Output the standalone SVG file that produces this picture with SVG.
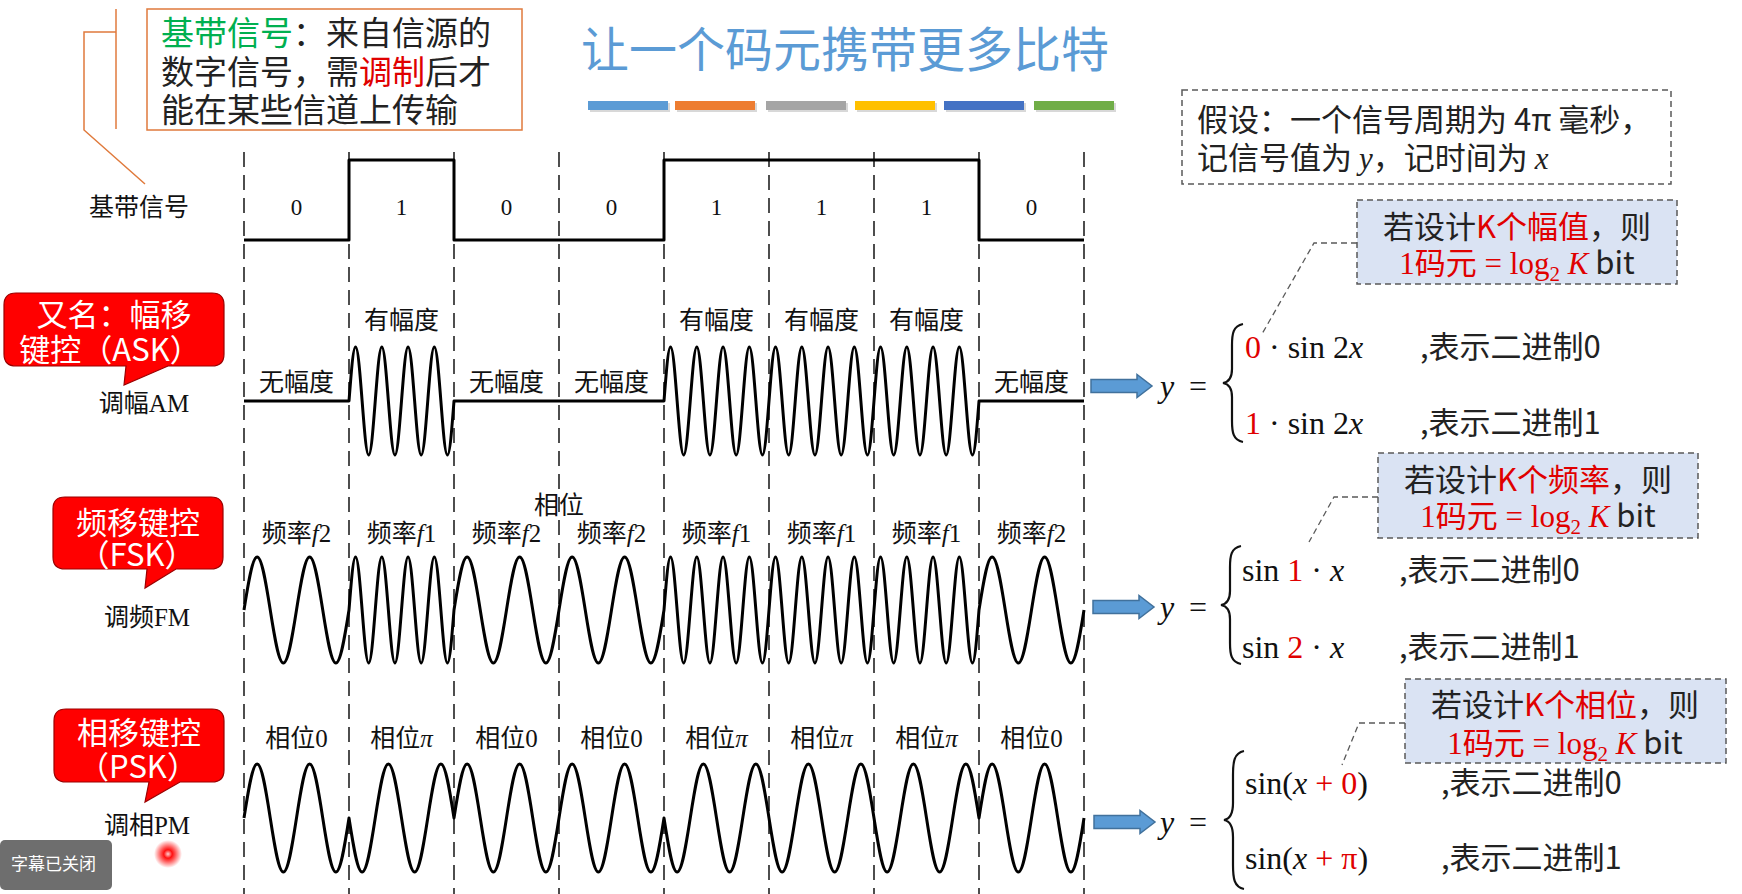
<svg xmlns="http://www.w3.org/2000/svg" width="1742" height="894" viewBox="0 0 1742 894">
<style>
.wave{fill:none;stroke:#000;stroke-width:3;stroke-linejoin:round}
.grid{stroke:#222;stroke-width:1.6;stroke-dasharray:15 8}
.lbl{font-family:'Liberation Serif','Noto Sans CJK SC',serif;font-size:25px;fill:#111;text-anchor:middle}
.dig{font-family:'Liberation Serif',serif;font-size:23px;fill:#111;text-anchor:middle}
.cjk{font-family:'Noto Sans CJK SC',sans-serif}
.serif{font-family:'Liberation Serif',serif}
.math{font-family:'Liberation Serif',serif;font-size:32px;fill:#111}
.row{font-family:'Noto Sans CJK SC',sans-serif;font-size:31px;fill:#222}
.red{fill:#E00000}
.it{font-style:italic}
.callout{fill:#FF0000;stroke:#9B0000;stroke-width:1.2}
.ctext{font-family:'Noto Sans CJK SC',sans-serif;font-size:31px;fill:#fff;text-anchor:middle}
.note{fill:#DAE3F3;stroke:#595959;stroke-width:1.5;stroke-dasharray:6 4}
.ntext{font-family:'Noto Sans CJK SC',sans-serif;font-size:31px;fill:#222;text-anchor:middle}
.lead{fill:none;stroke:#595959;stroke-width:1.3;stroke-dasharray:6 4}
.orange{fill:none;stroke:#E07A3C;stroke-width:1.5}
.arrow{fill:#5B9BD5;stroke:#41719C;stroke-width:1.5}
.brace{fill:none;stroke:#111;stroke-width:2.2}
</style>
<defs>
<path id="arr" d="M0,-6.5 H46 V-11.5 L61,0 L46,11.5 V6.5 H0 Z"/>
<radialGradient id="dotg">
<stop offset="0" stop-color="#ffd0d0"/>
<stop offset="0.3" stop-color="#ff1010"/>
<stop offset="0.6" stop-color="#ff0000" stop-opacity="0.55"/>
<stop offset="1" stop-color="#ff0000" stop-opacity="0"/>
</radialGradient>
</defs>
<rect width="1742" height="894" fill="#ffffff"/>

<g id="title">
<text x="845" y="67" text-anchor="middle" font-family="'Noto Sans CJK SC',sans-serif" font-size="48" fill="#5B9BD5">让一个码元携带更多比特</text>
<g fill="#000" opacity="0.15">
<rect x="590" y="103" width="80" height="9"/><rect x="677" y="103" width="80" height="9"/><rect x="768" y="103" width="80" height="9"/><rect x="857" y="103" width="80" height="9"/><rect x="946" y="103" width="80" height="9"/><rect x="1036" y="103" width="80" height="9"/>
</g>
<rect x="588" y="101" width="80" height="9" fill="#5B9BD5"/>
<rect x="675" y="101" width="80" height="9" fill="#ED7D31"/>
<rect x="766" y="101" width="80" height="9" fill="#A5A5A5"/>
<rect x="855" y="101" width="80" height="9" fill="#FFC000"/>
<rect x="944" y="101" width="80" height="9" fill="#4472C4"/>
<rect x="1034" y="101" width="80" height="9" fill="#70AD47"/>
</g>

<g id="connectors">
<path class="orange" d="M116,9 V129"/>
<path class="orange" d="M116,32 H84 V130 L145,184"/>
<path class="lead" d="M1357,243 H1314 L1262,334"/>
<path class="lead" d="M1378,497 H1334 L1309,542"/>
<path class="lead" d="M1405,723 H1359 L1342,765"/>
<use href="#arr" class="arrow" x="1091" y="386"/>
<use href="#arr" class="arrow" x="1093" y="607"/>
<use href="#arr" class="arrow" x="1094" y="822"/>
</g>

<g id="definition-box">
<rect x="147" y="9" width="375" height="121" fill="#fff" stroke="#E07A3C" stroke-width="1.5"/>
<text x="161" y="45" font-family="'Noto Sans CJK SC',sans-serif" font-size="33" fill="#222"><tspan fill="#00B050">基带信号</tspan>：来自信源的</text>
<text x="161" y="84" font-family="'Noto Sans CJK SC',sans-serif" font-size="33" fill="#222">数字信号，需<tspan class="red">调制</tspan>后才</text>
<text x="161" y="122" font-family="'Noto Sans CJK SC',sans-serif" font-size="33" fill="#222">能在某些信道上传输</text>
</g>

<g id="grid">
<line class="grid" x1="244" y1="152" x2="244" y2="894"/>
<line class="grid" x1="349" y1="152" x2="349" y2="894"/>
<line class="grid" x1="454" y1="152" x2="454" y2="894"/>
<line class="grid" x1="559" y1="152" x2="559" y2="894"/>
<line class="grid" x1="664" y1="152" x2="664" y2="894"/>
<line class="grid" x1="769" y1="152" x2="769" y2="894"/>
<line class="grid" x1="874" y1="152" x2="874" y2="894"/>
<line class="grid" x1="979" y1="152" x2="979" y2="894"/>
<line class="grid" x1="1084" y1="152" x2="1084" y2="894"/>
</g>

<g id="baseband">
<text class="lbl" x="139" y="216">基带信号</text>
<path class="wave" d="M244,240 H349 V160 H454 V240 H664 V160 H979 V240 H1084"/>
<text class="dig" x="296.5" y="215">0</text>
<text class="dig" x="401.5" y="215">1</text>
<text class="dig" x="506.5" y="215">0</text>
<text class="dig" x="611.5" y="215">0</text>
<text class="dig" x="716.5" y="215">1</text>
<text class="dig" x="821.5" y="215">1</text>
<text class="dig" x="926.5" y="215">1</text>
<text class="dig" x="1031.5" y="215">0</text>
</g>

<g id="ask">
<path class="callout" d="M16,293 H212 Q224,293 224,305 V354 Q224,366 212,366 H168 L124,385 L126,366 H16 Q4,366 4,354 V305 Q4,293 16,293 Z"/>
<text class="ctext" x="114" y="326">又名：幅移</text>
<text class="ctext" x="110" y="361">键控（ASK）</text>
<text class="lbl" x="144" y="412">调幅AM</text>
<text class="lbl" x="296.5" y="391">无幅度</text>
<text class="lbl" x="401.5" y="329">有幅度</text>
<text class="lbl" x="506.5" y="391">无幅度</text>
<text class="lbl" x="611.5" y="391">无幅度</text>
<text class="lbl" x="716.5" y="329">有幅度</text>
<text class="lbl" x="821.5" y="329">有幅度</text>
<text class="lbl" x="926.5" y="329">有幅度</text>
<text class="lbl" x="1031.5" y="391">无幅度</text>
<path class="wave" d="M244,401 H349 c2.14,-27.66 4.188,-54 6.5625,-54 s4.422,26.34 6.5625,54 s4.188,54 6.5625,54 s4.422,-26.34 6.5625,-54 s4.188,-54 6.5625,-54 s4.422,26.34 6.5625,54 s4.188,54 6.5625,54 s4.422,-26.34 6.5625,-54 s4.188,-54 6.5625,-54 s4.422,26.34 6.5625,54 s4.188,54 6.5625,54 s4.422,-26.34 6.5625,-54 s4.188,-54 6.5625,-54 s4.422,26.34 6.5625,54 s4.188,54 6.5625,54 s4.422,-26.34 6.5625,-54 H664 c2.14,-27.66 4.188,-54 6.5625,-54 s4.422,26.34 6.5625,54 s4.188,54 6.5625,54 s4.422,-26.34 6.5625,-54 s4.188,-54 6.5625,-54 s4.422,26.34 6.5625,54 s4.188,54 6.5625,54 s4.422,-26.34 6.5625,-54 s4.188,-54 6.5625,-54 s4.422,26.34 6.5625,54 s4.188,54 6.5625,54 s4.422,-26.34 6.5625,-54 s4.188,-54 6.5625,-54 s4.422,26.34 6.5625,54 s4.188,54 6.5625,54 s4.422,-26.34 6.5625,-54 s4.188,-54 6.5625,-54 s4.422,26.34 6.5625,54 s4.188,54 6.5625,54 s4.422,-26.34 6.5625,-54 s4.188,-54 6.5625,-54 s4.422,26.34 6.5625,54 s4.188,54 6.5625,54 s4.422,-26.34 6.5625,-54 s4.188,-54 6.5625,-54 s4.422,26.34 6.5625,54 s4.188,54 6.5625,54 s4.422,-26.34 6.5625,-54 s4.188,-54 6.5625,-54 s4.422,26.34 6.5625,54 s4.188,54 6.5625,54 s4.422,-26.34 6.5625,-54 s4.188,-54 6.5625,-54 s4.422,26.34 6.5625,54 s4.188,54 6.5625,54 s4.422,-26.34 6.5625,-54 s4.188,-54 6.5625,-54 s4.422,26.34 6.5625,54 s4.188,54 6.5625,54 s4.422,-26.34 6.5625,-54 s4.188,-54 6.5625,-54 s4.422,26.34 6.5625,54 s4.188,54 6.5625,54 s4.422,-26.34 6.5625,-54 s4.188,-54 6.5625,-54 s4.422,26.34 6.5625,54 s4.188,54 6.5625,54 s4.422,-26.34 6.5625,-54 H1084"/>
</g>

<g id="fsk">
<path class="callout" d="M65,497 H211 Q223,497 223,509 V557 Q223,569 211,569 H176 L145,588 L147,569 H65 Q53,569 53,557 V509 Q53,497 65,497 Z"/>
<text class="ctext" x="138" y="534">频移键控</text>
<text class="ctext" x="137" y="566">（FSK）</text>
<text class="lbl" x="147" y="626">调频FM</text>
<text class="lbl" x="559" y="514">相位</text>
<text class="lbl" x="296.5" y="542">频率<tspan class="it">f</tspan>2</text>
<text class="lbl" x="401.5" y="542">频率<tspan class="it">f</tspan>1</text>
<text class="lbl" x="506.5" y="542">频率<tspan class="it">f</tspan>2</text>
<text class="lbl" x="611.5" y="542">频率<tspan class="it">f</tspan>2</text>
<text class="lbl" x="716.5" y="542">频率<tspan class="it">f</tspan>1</text>
<text class="lbl" x="821.5" y="542">频率<tspan class="it">f</tspan>1</text>
<text class="lbl" x="926.5" y="542">频率<tspan class="it">f</tspan>1</text>
<text class="lbl" x="1031.5" y="542">频率<tspan class="it">f</tspan>2</text>
<path class="wave" d="M244,610 c4.28,-27.15 8.375,-53 13.125,-53 s8.845,25.85 13.125,53 s8.375,53 13.125,53 s8.845,-25.85 13.125,-53 s8.375,-53 13.125,-53 s8.845,25.85 13.125,53 s8.375,53 13.125,53 s8.845,-25.85 13.125,-53 c2.14,-27.15 4.188,-53 6.5625,-53 s4.422,25.85 6.5625,53 s4.188,53 6.5625,53 s4.422,-25.85 6.5625,-53 s4.188,-53 6.5625,-53 s4.422,25.85 6.5625,53 s4.188,53 6.5625,53 s4.422,-25.85 6.5625,-53 s4.188,-53 6.5625,-53 s4.422,25.85 6.5625,53 s4.188,53 6.5625,53 s4.422,-25.85 6.5625,-53 s4.188,-53 6.5625,-53 s4.422,25.85 6.5625,53 s4.188,53 6.5625,53 s4.422,-25.85 6.5625,-53 c4.28,-27.15 8.375,-53 13.125,-53 s8.845,25.85 13.125,53 s8.375,53 13.125,53 s8.845,-25.85 13.125,-53 s8.375,-53 13.125,-53 s8.845,25.85 13.125,53 s8.375,53 13.125,53 s8.845,-25.85 13.125,-53 s8.375,-53 13.125,-53 s8.845,25.85 13.125,53 s8.375,53 13.125,53 s8.845,-25.85 13.125,-53 s8.375,-53 13.125,-53 s8.845,25.85 13.125,53 s8.375,53 13.125,53 s8.845,-25.85 13.125,-53 c2.14,-27.15 4.188,-53 6.5625,-53 s4.422,25.85 6.5625,53 s4.188,53 6.5625,53 s4.422,-25.85 6.5625,-53 s4.188,-53 6.5625,-53 s4.422,25.85 6.5625,53 s4.188,53 6.5625,53 s4.422,-25.85 6.5625,-53 s4.188,-53 6.5625,-53 s4.422,25.85 6.5625,53 s4.188,53 6.5625,53 s4.422,-25.85 6.5625,-53 s4.188,-53 6.5625,-53 s4.422,25.85 6.5625,53 s4.188,53 6.5625,53 s4.422,-25.85 6.5625,-53 s4.188,-53 6.5625,-53 s4.422,25.85 6.5625,53 s4.188,53 6.5625,53 s4.422,-25.85 6.5625,-53 s4.188,-53 6.5625,-53 s4.422,25.85 6.5625,53 s4.188,53 6.5625,53 s4.422,-25.85 6.5625,-53 s4.188,-53 6.5625,-53 s4.422,25.85 6.5625,53 s4.188,53 6.5625,53 s4.422,-25.85 6.5625,-53 s4.188,-53 6.5625,-53 s4.422,25.85 6.5625,53 s4.188,53 6.5625,53 s4.422,-25.85 6.5625,-53 s4.188,-53 6.5625,-53 s4.422,25.85 6.5625,53 s4.188,53 6.5625,53 s4.422,-25.85 6.5625,-53 s4.188,-53 6.5625,-53 s4.422,25.85 6.5625,53 s4.188,53 6.5625,53 s4.422,-25.85 6.5625,-53 s4.188,-53 6.5625,-53 s4.422,25.85 6.5625,53 s4.188,53 6.5625,53 s4.422,-25.85 6.5625,-53 s4.188,-53 6.5625,-53 s4.422,25.85 6.5625,53 s4.188,53 6.5625,53 s4.422,-25.85 6.5625,-53 c4.28,-27.15 8.375,-53 13.125,-53 s8.845,25.85 13.125,53 s8.375,53 13.125,53 s8.845,-25.85 13.125,-53 s8.375,-53 13.125,-53 s8.845,25.85 13.125,53 s8.375,53 13.125,53 s8.845,-25.85 13.125,-53"/>
</g>

<g id="psk">
<path class="callout" d="M66,709 H212 Q224,709 224,721 V770 Q224,782 212,782 H180 L145,802 L149,782 H66 Q54,782 54,770 V721 Q54,709 66,709 Z"/>
<text class="ctext" x="139" y="744">相移键控</text>
<text class="ctext" x="138" y="778">（PSK）</text>
<text class="lbl" x="147" y="834">调相PM</text>
<text class="lbl" x="296.5" y="747">相位0</text>
<text class="lbl" x="401.5" y="747">相位<tspan class="it">π</tspan></text>
<text class="lbl" x="506.5" y="747">相位0</text>
<text class="lbl" x="611.5" y="747">相位0</text>
<text class="lbl" x="716.5" y="747">相位<tspan class="it">π</tspan></text>
<text class="lbl" x="821.5" y="747">相位<tspan class="it">π</tspan></text>
<text class="lbl" x="926.5" y="747">相位<tspan class="it">π</tspan></text>
<text class="lbl" x="1031.5" y="747">相位0</text>
<path class="wave" d="M244,818 c4.28,-27.66 8.375,-54 13.125,-54 s8.845,26.34 13.125,54 s8.375,54 13.125,54 s8.845,-26.34 13.125,-54 s8.375,-54 13.125,-54 s8.845,26.34 13.125,54 s8.375,54 13.125,54 s8.845,-26.34 13.125,-54 c4.28,27.66 8.375,54 13.125,54 s8.845,-26.34 13.125,-54 s8.375,-54 13.125,-54 s8.845,26.34 13.125,54 s8.375,54 13.125,54 s8.845,-26.34 13.125,-54 s8.375,-54 13.125,-54 s8.845,26.34 13.125,54 c4.28,-27.66 8.375,-54 13.125,-54 s8.845,26.34 13.125,54 s8.375,54 13.125,54 s8.845,-26.34 13.125,-54 s8.375,-54 13.125,-54 s8.845,26.34 13.125,54 s8.375,54 13.125,54 s8.845,-26.34 13.125,-54 s8.375,-54 13.125,-54 s8.845,26.34 13.125,54 s8.375,54 13.125,54 s8.845,-26.34 13.125,-54 s8.375,-54 13.125,-54 s8.845,26.34 13.125,54 s8.375,54 13.125,54 s8.845,-26.34 13.125,-54 c4.28,27.66 8.375,54 13.125,54 s8.845,-26.34 13.125,-54 s8.375,-54 13.125,-54 s8.845,26.34 13.125,54 s8.375,54 13.125,54 s8.845,-26.34 13.125,-54 s8.375,-54 13.125,-54 s8.845,26.34 13.125,54 s8.375,54 13.125,54 s8.845,-26.34 13.125,-54 s8.375,-54 13.125,-54 s8.845,26.34 13.125,54 s8.375,54 13.125,54 s8.845,-26.34 13.125,-54 s8.375,-54 13.125,-54 s8.845,26.34 13.125,54 s8.375,54 13.125,54 s8.845,-26.34 13.125,-54 s8.375,-54 13.125,-54 s8.845,26.34 13.125,54 s8.375,54 13.125,54 s8.845,-26.34 13.125,-54 s8.375,-54 13.125,-54 s8.845,26.34 13.125,54 c4.28,-27.66 8.375,-54 13.125,-54 s8.845,26.34 13.125,54 s8.375,54 13.125,54 s8.845,-26.34 13.125,-54 s8.375,-54 13.125,-54 s8.845,26.34 13.125,54 s8.375,54 13.125,54 s8.845,-26.34 13.125,-54"/>
</g>

<g id="assumption">
<rect x="1182" y="90" width="489" height="94" fill="#fff" stroke="#595959" stroke-width="1.5" stroke-dasharray="6 4"/>
<text x="1197" y="131" font-family="'Noto Sans CJK SC',sans-serif" font-size="31" fill="#222">假设：一个信号周期为 4π 毫秒，</text>
<text x="1197" y="169" font-family="'Noto Sans CJK SC',sans-serif" font-size="31" fill="#222">记信号值为 <tspan class="serif it">y</tspan>，记时间为 <tspan class="serif it">x</tspan></text>
</g>

<g id="note-amplitude">
<rect class="note" x="1357" y="200" width="320" height="84"/>
<text class="ntext" x="1517" y="238">若设计<tspan class="red">K个幅值</tspan>，则</text>
<text class="ntext" x="1517" y="274"><tspan class="red serif">1</tspan><tspan class="red">码元</tspan><tspan class="red serif"> = log</tspan><tspan class="red serif" font-size="21" dy="7">2</tspan><tspan class="red serif it" dy="-7"> K</tspan> bit</text>
</g>

<g id="note-frequency">
<rect class="note" x="1378" y="453" width="320" height="85"/>
<text class="ntext" x="1538" y="491">若设计<tspan class="red">K个频率</tspan>，则</text>
<text class="ntext" x="1538" y="527"><tspan class="red serif">1</tspan><tspan class="red">码元</tspan><tspan class="red serif"> = log</tspan><tspan class="red serif" font-size="21" dy="7">2</tspan><tspan class="red serif it" dy="-7"> K</tspan> bit</text>
</g>

<g id="note-phase">
<rect class="note" x="1405" y="679" width="321" height="84"/>
<text class="ntext" x="1565" y="716">若设计<tspan class="red">K个相位</tspan>，则</text>
<text class="ntext" x="1565" y="754"><tspan class="red serif">1</tspan><tspan class="red">码元</tspan><tspan class="red serif"> = log</tspan><tspan class="red serif" font-size="21" dy="7">2</tspan><tspan class="red serif it" dy="-7"> K</tspan> bit</text>
</g>

<g id="formula-ask">
<text class="math it" x="1160" y="397">y</text>
<text class="math" x="1189" y="397" font-size="34">=</text>
<path class="brace" d="M1243,324 C1233,326 1232,334 1232,345 L1232,369 C1232,378 1229,382 1223,383 C1229,384 1232,388 1232,397 L1232,421 C1232,432 1233,440 1243,442"/>
<text class="math" x="1245" y="358"><tspan class="red">0</tspan> · sin 2<tspan class="it">x</tspan></text>
<text class="row" x="1420" y="358">,表示二进制0</text>
<text class="math" x="1245" y="434"><tspan class="red">1</tspan> · sin 2<tspan class="it">x</tspan></text>
<text class="row" x="1420" y="434">,表示二进制1</text>
</g>

<g id="formula-fsk">
<text class="math it" x="1160" y="618">y</text>
<text class="math" x="1189" y="618" font-size="34">=</text>
<path class="brace" d="M1241,546 C1231,548 1230,556 1230,567 L1230,591 C1230,600 1227,604 1221,605 C1227,606 1230,610 1230,619 L1230,643 C1230,654 1231,662 1241,664"/>
<text class="math" x="1242" y="581">sin <tspan class="red">1</tspan> · <tspan class="it">x</tspan></text>
<text class="row" x="1399" y="581">,表示二进制0</text>
<text class="math" x="1242" y="658">sin <tspan class="red">2</tspan> · <tspan class="it">x</tspan></text>
<text class="row" x="1399" y="658">,表示二进制1</text>
</g>

<g id="formula-psk">
<text class="math it" x="1160" y="833">y</text>
<text class="math" x="1189" y="833" font-size="34">=</text>
<path class="brace" d="M1244,751 C1234,753 1233,762 1233,775 L1233,803 C1233,814 1230,819 1224,820 C1230,821 1233,826 1233,837 L1233,865 C1233,878 1234,887 1244,889"/>
<text class="math" x="1245" y="794">sin(<tspan class="it">x</tspan><tspan class="red"> + 0</tspan>)</text>
<text class="row" x="1441" y="794">,表示二进制0</text>
<text class="math" x="1245" y="869">sin(<tspan class="it">x</tspan><tspan class="red"> + π</tspan>)</text>
<text class="row" x="1441" y="869">,表示二进制1</text>
</g>

<g id="player-overlay">
<rect x="0" y="840" width="112" height="50" rx="5" fill="#6E6E6E"/>
<text x="11" y="870" font-family="'Noto Sans CJK SC',sans-serif" font-size="17" fill="#fff">字幕已关闭</text>
<circle cx="168" cy="854" r="14" fill="url(#dotg)"/>
</g>
</svg>
